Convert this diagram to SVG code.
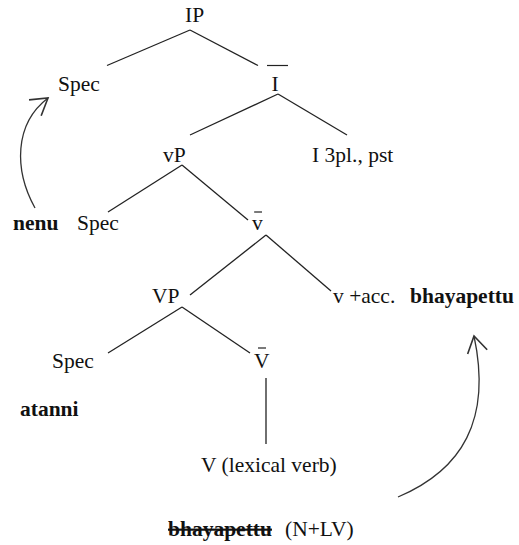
<svg xmlns="http://www.w3.org/2000/svg" width="519" height="545" viewBox="0 0 519 545">
  <style>
    text { font-family: "Liberation Serif", "DejaVu Serif", serif; font-size: 21.5px; fill: #111; }
    .b { font-weight: bold; }
    .edge { stroke: #222; stroke-width: 1.3; fill: none; }
    .bar { stroke: #222; stroke-width: 1.2; }
    .move { stroke: #333; stroke-width: 1.3; fill: none; }
  </style>
  <defs>
    <marker id="open-head" markerUnits="userSpaceOnUse" markerWidth="30" markerHeight="30" refX="0" refY="0" viewBox="-16 -12 20 24" orient="auto">
      <path d="M -13,-8 L 0,0 L -13,8" fill="none" stroke="#333" stroke-width="1.3"/>
    </marker>
  </defs>

  <!-- tree branches and movement arrows -->
  <g id="connectors">
    <line class="edge" x1="190" y1="30" x2="107" y2="65.5"/>
    <line class="edge" x1="190" y1="30" x2="258" y2="65.5"/>
    <line class="edge" x1="278" y1="94" x2="190" y2="135"/>
    <line class="edge" x1="278" y1="94" x2="347" y2="135"/>
    <line class="edge" x1="182" y1="165" x2="108" y2="212"/>
    <line class="edge" x1="182" y1="165" x2="248" y2="220"/>
    <line class="edge" x1="266" y1="235" x2="190" y2="295"/>
    <line class="edge" x1="266" y1="235" x2="331" y2="291"/>
    <line class="edge" x1="182" y1="307" x2="108" y2="353"/>
    <line class="edge" x1="182" y1="307" x2="250" y2="353"/>
    <line class="edge" x1="266" y1="378" x2="266" y2="444"/>
    <path class="move" d="M 35,208 C 14,170 14,124 48,98" marker-end="url(#open-head)"/>
    <path class="move" d="M 398,497 C 462,470 492,420 474,336" marker-end="url(#open-head)"/>
  </g>

  <g id="ip"><text x="185" y="22">IP</text></g>
  <g id="ip-spec"><text x="58" y="91">Spec</text></g>
  <g id="i-bar">
    <line class="bar" x1="267" y1="65.5" x2="288" y2="65.5"/>
    <text x="275" y="91" text-anchor="middle">I</text>
  </g>
  <g id="vp-little"><text x="163" y="162">vP</text></g>
  <g id="i-head"><text x="312" y="162">I 3pl., pst</text></g>
  <g id="nenu"><text class="b" x="13" y="230">nenu</text></g>
  <g id="vp-little-spec"><text x="77" y="230">Spec</text></g>
  <g id="v-little-bar">
    <line class="bar" x1="254" y1="212" x2="262" y2="212"/>
    <text x="252" y="230">v</text>
  </g>
  <g id="vp"><text x="152" y="303">VP</text></g>
  <g id="v-little-head">
    <text x="333" y="303">v +acc.</text>
    <text class="b" x="410" y="303">bhayapettu</text>
  </g>
  <g id="vp-spec"><text x="52" y="368">Spec</text></g>
  <g id="v-bar">
    <line class="bar" x1="258" y1="348" x2="266" y2="348"/>
    <text x="254" y="368">V</text>
  </g>
  <g id="atanni"><text class="b" x="20" y="416">atanni</text></g>
  <g id="v-head"><text x="201" y="472">V (lexical verb)</text></g>
  <g id="base">
    <text class="b" x="168" y="536" text-decoration="line-through">bhayapettu</text>
    <text x="285" y="536">(N+LV)</text>
  </g>
</svg>
